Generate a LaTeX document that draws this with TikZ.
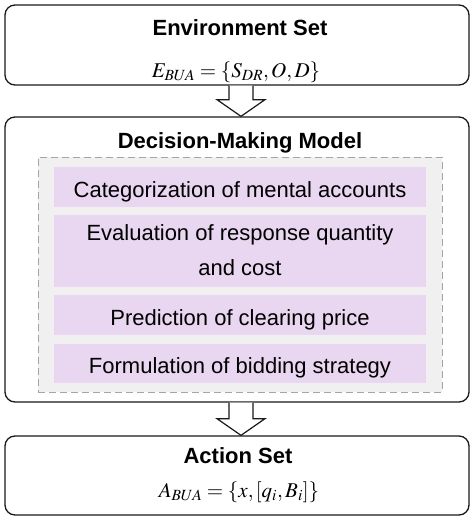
\documentclass[tikz,border=0pt]{standalone}
\usepackage{mathptmx}
\usepackage{fontspec}
\setsansfont{Liberation Sans}
\usetikzlibrary{calc}
\definecolor{lav}{RGB}{233,214,240}
\definecolor{panel}{RGB}{240,240,240}
\definecolor{dashc}{RGB}{165,165,165}
\definecolor{ink}{RGB}{25,25,25}
\tikzset{
  outer/.style={draw=ink,line width=1.3pt,rounded corners=10pt,fill=white,minimum width=464pt,inner sep=0pt},
  panelbox/.style={draw=dashc,dash pattern=on 7pt off 4pt,line width=0.9pt,fill=panel,minimum width=404pt,minimum height=235pt,inner sep=0pt},
  stepbox/.style={fill=lav,minimum width=372pt,inner sep=0pt},
  ttl/.style={font=\sffamily\bfseries\fontsize{22}{26}\selectfont,anchor=base,inner sep=0pt},
  txt/.style={font=\sffamily\fontsize{22}{26}\selectfont,anchor=base,inner sep=0pt},
  mth/.style={font=\fontsize{21}{25}\selectfont,anchor=base,inner sep=0pt},
  bigarrow/.style={draw=ink,line width=1.2pt,fill=white,line join=miter}
}
\begin{document}
\begin{tikzpicture}[x=1pt,y=-1pt]
\useasboundingbox (0,0) rectangle (474,520);
% boxes
\node[outer,minimum height=80pt] (env) at (237,45) {};
\node[outer,minimum height=285pt] (dm) at (237,259.5) {};
\node[outer,minimum height=79pt] (act) at (237,475.5) {};
\node[panelbox] (panel) at (240,274.5) {};
\node[stepbox,minimum height=40pt] (s1) at (240,187) {};
\node[stepbox,minimum height=72pt] (s2) at (240,251) {};
\node[stepbox,minimum height=40pt] (s3) at (240,315) {};
\node[stepbox,minimum height=39pt] (s4) at (240,363.5) {};
% texts
\node[ttl] (envt) at (240,35) {Environment Set};
\node[mth] (envm) at (236,77) {$E_{BUA}=\{S_{DR},O,D\}$};
\node[ttl] (dmt) at (240,148) {Decision-Making Model};
\node[txt] (t1) at (240,197) {Categorization of mental accounts};
\node[txt] (t2a) at (240,240) {Evaluation of response quantity};
\node[txt] (t2b) at (240,275) {and cost};
\node[txt] (t3) at (240,325) {Prediction of clearing price};
\node[txt] (t4) at (240,373) {Formulation of bidding strategy};
\node[ttl] (actt) at (238,463) {Action Set};
\node[mth] (actm) at (239,497) {$A_{BUA}=\{x,[q_i,B_i]\}$};
% arrows
\coordinate (a1s) at ($(env.south)+(4,0)$);
\coordinate (a1e) at ($(dm.north)+(4,0)$);
\draw[bigarrow] ($(a1s)+(-12,0)$) -- ($(a1s)+(-12,14)$) -- ($(a1s)+(-24,14)$) -- (a1e)
  -- ($(a1s)+(24,14)$) -- ($(a1s)+(12,14)$) -- ($(a1s)+(12,0)$);
\coordinate (a2s) at ($(dm.south)+(4,0)$);
\coordinate (a2e) at ($(act.north)+(4,0)$);
\draw[bigarrow] ($(a2s)+(-12,0)$) -- ($(a2s)+(-12,16)$) -- ($(a2s)+(-24,16)$) -- (a2e)
  -- ($(a2s)+(24,16)$) -- ($(a2s)+(12,16)$) -- ($(a2s)+(12,0)$);
\end{tikzpicture}
\end{document}
